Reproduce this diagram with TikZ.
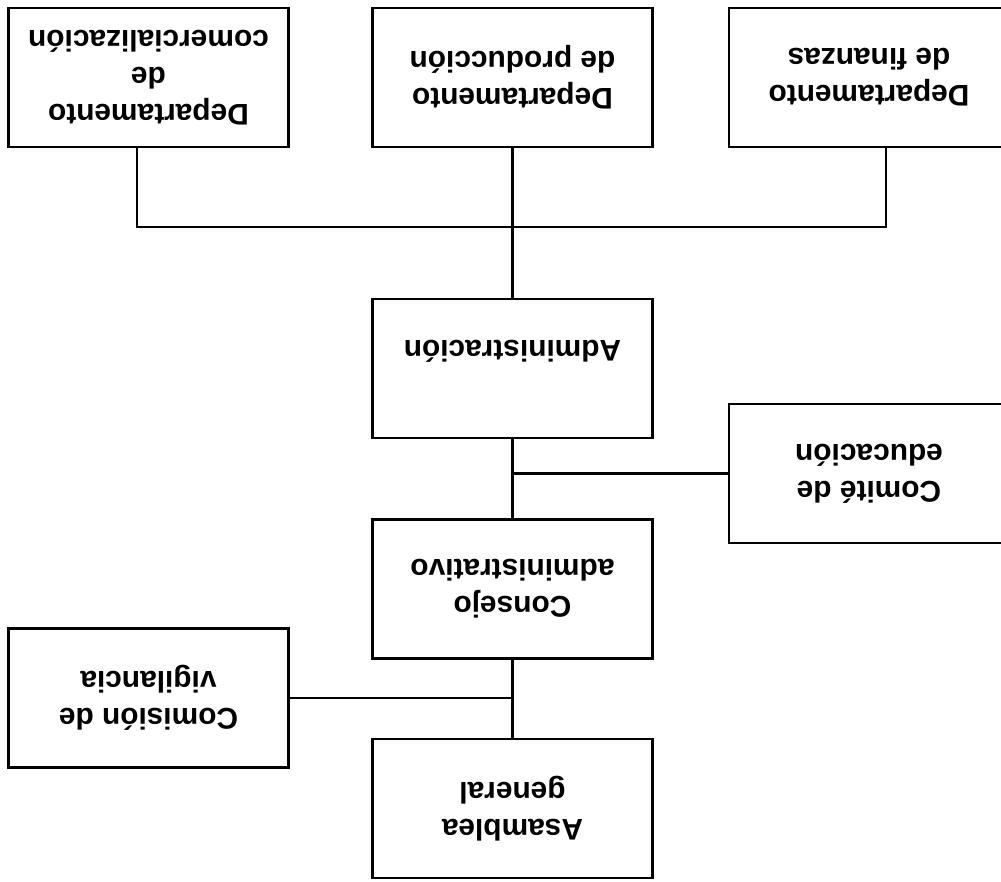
\documentclass[tikz,border=0pt]{standalone}
\usepackage{fontspec}
\setmainfont{Liberation Sans}
\tikzset{
  unit/.style={draw, line width=1.4pt, minimum width=5.6cm, minimum height=2.78cm,
    align=center, rotate=180, font=\fontsize{17}{21}\selectfont\bfseries},
  link/.style={draw, line width=1.3pt}
}

\begin{document}
\begin{tikzpicture}[x=0.02cm, y=-0.02cm]
  \path[use as bounding box, clip] (0,0) rectangle (1001,882);

  % departments
  \node[unit] (mkt)  at (148.5,77.5) {Departamento\\de\\comercialización};
  \node[unit] (prod) at (512.5,77.5) {Departamento\\de producción};
  \node[unit] (fin)  at (869,77.5)   {Departamento\\de finanzas};

  \node[unit, text height=32pt, text depth=0pt] (adm) at (512.5,368.5) {Administración};
  \node[unit] (edu)  at (869,473.5)  {Comité de\\educación};
  \node[unit] (cons) at (512.5,589)  {Consejo\\administrativo};
  \node[unit] (vig)  at (148.5,698)  {Comisión de\\vigilancia};
  \node[unit] (asam) at (512.5,808.5) {Asamblea\\general};

  \coordinate (busL) at (137,227);
  \coordinate (busR) at (886,227);
  \coordinate (eduJ) at (512.5,473.5);
  \coordinate (vigJ) at (512.5,698);

  % boxes are turned, so north is the lower edge
  \draw[link] (mkt.north -| busL) -- (busL) -- (busR) -- (fin.north -| busR);
  \draw[link] (prod) -- (adm);
  \draw[link] (adm) -- (cons);
  \draw[link] (cons) -- (asam);
  \draw[link] (eduJ) -- (edu);
  \draw[link] (vigJ) -- (vig);
\end{tikzpicture}
\end{document}
